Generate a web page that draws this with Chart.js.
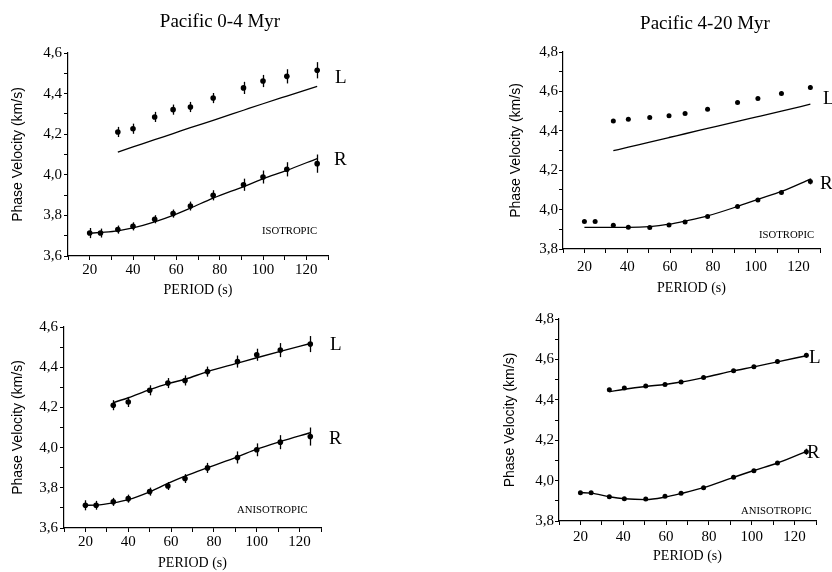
<!DOCTYPE html>
<html>
<head>
<meta charset="utf-8">
<script src="https://cdn.jsdelivr.net/npm/chart.js@4.4.1/dist/chart.umd.min.js"></script>
<style>
  body { margin: 0; background: #fff; width: 832px; height: 572px; overflow: hidden; position: relative;
         font-family: "Liberation Serif", "Times New Roman", serif; color: #000; }
  canvas { position: absolute; }
  .txt { position: absolute; white-space: nowrap; line-height: 1; transform: translateY(-50%); }
  .ttl { font-size: 19px; transform: translate(-50%, -50%); }
  .curve { font-size: 19px; }
  .tag { font-size: 10.7px; }
</style>
</head>
<body>
<canvas id="c1" width="416" height="300" style="left:0;top:0"></canvas>
<canvas id="c2" width="416" height="300" style="left:416px;top:0"></canvas>
<canvas id="c3" width="416" height="272" style="left:0;top:300px"></canvas>
<canvas id="c4" width="416" height="272" style="left:416px;top:300px"></canvas>

<div class="txt ttl" style="left:220px;top:20px">Pacific 0-4 Myr</div>
<div class="txt ttl" style="left:705px;top:22px">Pacific 4-20 Myr</div>

<div class="txt curve" style="left:335px;top:76px">L</div>
<div class="txt curve" style="left:334px;top:158px">R</div>
<div class="txt tag" style="left:262px;top:230px">ISOTROPIC</div>

<div class="txt curve" style="left:823px;top:97px">L</div>
<div class="txt curve" style="left:820px;top:182px">R</div>
<div class="txt tag" style="left:759px;top:234px">ISOTROPIC</div>

<div class="txt curve" style="left:330px;top:343px">L</div>
<div class="txt curve" style="left:329px;top:437px">R</div>
<div class="txt tag" style="left:237px;top:509px">ANISOTROPIC</div>

<div class="txt curve" style="left:809px;top:356px">L</div>
<div class="txt curve" style="left:807px;top:451px">R</div>
<div class="txt tag" style="left:741px;top:510px">ANISOTROPIC</div>

<script>
// periods (s)
const periodsR_young = [20, 25, 33, 40, 50, 58.5, 66.5, 77, 91, 100, 111, 125];
const periodsL_young = [33, 40, 50, 58.5, 66.5, 77, 91, 100, 111, 125];
const periodsR_old = [20, 25, 33.5, 40.5, 50.5, 59.5, 67, 77.5, 91.5, 101, 112, 125.5];
const periodsL_old = [33.5, 40.5, 50.5, 59.5, 67, 77.5, 91.5, 101, 112, 125.5];

// Pacific 0-4 Myr, observed phase velocities (km/s) and error bars
const obsR_young = [3.713, 3.713, 3.730, 3.746, 3.781, 3.809, 3.846, 3.899, 3.951, 3.989, 4.027, 4.055];
const errR_young = [0.025, 0.022, 0.02, 0.02, 0.02, 0.02, 0.022, 0.025, 0.03, 0.032, 0.035, 0.045];
const obsL_young = [4.211, 4.227, 4.285, 4.321, 4.334, 4.378, 4.428, 4.462, 4.485, 4.515];
const errL_young = [0.025, 0.025, 0.025, 0.025, 0.025, 0.025, 0.03, 0.03, 0.035, 0.04];

// Pacific 0-4 Myr, model curves
const isoR_young = [3.712, 3.716, 3.724, 3.738, 3.768, 3.800, 3.836, 3.885, 3.942, 3.980, 4.022, 4.080];
const isoL_young = [4.112, 4.137, 4.173, 4.203, 4.232, 4.268, 4.318, 4.350, 4.388, 4.436];
const anisoR_young = [3.713, 3.714, 3.725, 3.741, 3.780, 3.822, 3.858, 3.900, 3.954, 3.992, 4.030, 4.074];
const anisoL_young = [4.224, 4.248, 4.288, 4.318, 4.340, 4.378, 4.420, 4.447, 4.479, 4.518];

// Pacific 4-20 Myr, observed
const obsR_old = [3.940, 3.940, 3.920, 3.910, 3.909, 3.922, 3.937, 3.965, 4.016, 4.049, 4.087, 4.143];
const errR_old = [0.006, 0.006, 0.006, 0.006, 0.006, 0.006, 0.006, 0.006, 0.008, 0.008, 0.01, 0.015];
const obsL_old = [4.450, 4.458, 4.468, 4.476, 4.488, 4.510, 4.544, 4.564, 4.589, 4.620];
const errL_old = [0.006, 0.006, 0.006, 0.006, 0.006, 0.006, 0.008, 0.008, 0.01, 0.012];

// Pacific 4-20 Myr, model curves
const isoR_old = [3.910, 3.910, 3.910, 3.910, 3.914, 3.926, 3.942, 3.968, 4.016, 4.052, 4.092, 4.155];
const isoL_old = [4.299, 4.317, 4.343, 4.366, 4.385, 4.412, 4.448, 4.472, 4.500, 4.535];
const anisoR_old = [3.940, 3.938, 3.920, 3.910, 3.906, 3.918, 3.936, 3.965, 4.016, 4.050, 4.087, 4.145];
const anisoL_old = [4.440, 4.452, 4.466, 4.476, 4.488, 4.510, 4.543, 4.563, 4.588, 4.618];

const xTickLabels = [20, 40, 60, 80, 100, 120];

const pts = (xs, ys) => xs.map((x, i) => ({ x: x, y: ys[i] }));

// vertical error bars drawn through the chart scales
const errorBars = {
  id: 'errorBars',
  afterDatasetsDraw(chart) {
    const { ctx, scales: { x, y } } = chart;
    ctx.save();
    ctx.strokeStyle = '#000';
    ctx.lineWidth = 1.3;
    chart.data.datasets.forEach(ds => {
      if (!ds.errors) return;
      ds.data.forEach((p, i) => {
        const px = Math.round(x.getPixelForValue(p.x)) + 0.5;
        ctx.beginPath();
        ctx.moveTo(px, y.getPixelForValue(p.y - ds.errors[i]));
        ctx.lineTo(px, y.getPixelForValue(p.y + ds.errors[i]));
        ctx.stroke();
      });
    });
    ctx.restore();
  }
};

function makePanel(id, cfg) {
  const serif = '"Liberation Serif", "Times New Roman", serif';
  const obs = (xs, ys, errs) => ({
    data: pts(xs, ys), errors: errs, showLine: false,
    pointRadius: cfg.dot, pointBackgroundColor: '#000', pointBorderWidth: 0
  });
  const model = (xs, ys) => ({
    data: pts(xs, ys), showLine: true, pointRadius: 0, borderColor: '#000',
    borderWidth: cfg.lw, cubicInterpolationMode: 'monotone', fill: false
  });
  new Chart(document.getElementById(id), {
    type: 'scatter',
    data: {
      datasets: [
        model(cfg.periodsL, cfg.modelL),
        model(cfg.periodsR, cfg.modelR),
        obs(cfg.periodsL, cfg.obsL, cfg.errL),
        obs(cfg.periodsR, cfg.obsR, cfg.errR)
      ]
    },
    options: {
      responsive: false,
      animation: false,
      layout: { padding: cfg.pad },
      plugins: { legend: { display: false }, tooltip: { enabled: false } },
      scales: {
        x: {
          type: 'linear', min: 10, max: 130,
          afterFit: s => { s.height = cfg.xAxisH; },
          border: { display: true, color: '#000', width: 1.2 },
          grid: { drawOnChartArea: false, drawTicks: true, tickLength: 4, color: '#000', lineWidth: 1 },
          ticks: {
            stepSize: 10, autoSkip: false, maxRotation: 0, padding: cfg.xTickPad, color: '#000',
            font: { family: serif, size: 15 },
            callback: v => xTickLabels.includes(v) ? String(v) : ''
          },
          title: { display: true, text: 'PERIOD (s)', color: '#000',
                   font: { family: serif, size: 14 }, padding: { top: 0, bottom: cfg.xTitlePad } }
        },
        y: {
          min: cfg.yMin, max: cfg.yMax,
          afterFit: s => { s.width = 60; },
          border: { display: true, color: '#000', width: 1.2 },
          grid: { drawOnChartArea: false, drawTicks: true, tickLength: 4, color: '#000', lineWidth: 1 },
          ticks: {
            stepSize: 0.1, autoSkip: false, padding: cfg.yTickPad, color: '#000',
            font: { family: serif, size: 15 },
            callback: v => Math.round(v * 10) % 2 === 0 ? v.toFixed(1).replace('.', ',') : ''
          },
          title: { display: true, text: 'Phase Velocity (km/s)', color: '#000',
                   font: { family: '"Liberation Sans", Arial, sans-serif', size: 14 },
                   padding: { top: cfg.yTitlePad, bottom: 0 } }
        }
      }
    },
    plugins: [errorBars]
  });
}

makePanel('c1', {
  periodsL: periodsL_young, periodsR: periodsR_young,
  obsL: obsL_young, errL: errL_young, obsR: obsR_young, errR: errR_young,
  modelL: isoL_young, modelR: isoR_young,
  yMin: 3.6, yMax: 4.6, dot: 2.8, lw: 1.3,
  pad: { left: 8, right: 88, top: 53, bottom: 0 }, xAxisH: 44,
  xTickPad: 1, yTickPad: 2, xTitlePad: 1.6, yTitlePad: 1.6
});

makePanel('c2', {
  periodsL: periodsL_old, periodsR: periodsR_old,
  obsL: obsL_old, errL: errL_old, obsR: obsR_old, errR: errR_old,
  modelL: isoL_old, modelR: isoR_old,
  yMin: 3.8, yMax: 4.8, dot: 2.5, lw: 1.3,
  pad: { left: 87, right: 12, top: 52, bottom: 0 }, xAxisH: 51,
  xTickPad: 5, yTickPad: 1, xTitlePad: 3.6, yTitlePad: 4.6
});

makePanel('c3', {
  periodsL: periodsL_young, periodsR: periodsR_young,
  obsL: obsL_young, errL: errL_young, obsR: obsR_young, errR: errR_young,
  modelL: anisoL_young, modelR: anisoR_young,
  yMin: 3.6, yMax: 4.6, dot: 2.8, lw: 1.4,
  pad: { left: 4, right: 95, top: 27, bottom: 0 }, xAxisH: 44,
  xTickPad: 1, yTickPad: 2, xTitlePad: 0.3, yTitlePad: 5.6
});

makePanel('c4', {
  periodsL: periodsL_old, periodsR: periodsR_old,
  obsL: obsL_old, errL: errL_old, obsR: obsR_old, errR: errR_old,
  modelL: anisoL_old, modelR: anisoR_old,
  yMin: 3.8, yMax: 4.8, dot: 2.5, lw: 1.4,
  pad: { left: 83, right: 16, top: 19, bottom: 0 }, xAxisH: 51,
  xTickPad: 3, yTickPad: 1, xTitlePad: 6.9, yTitlePad: 3.2
});
</script>
</body>
</html>
